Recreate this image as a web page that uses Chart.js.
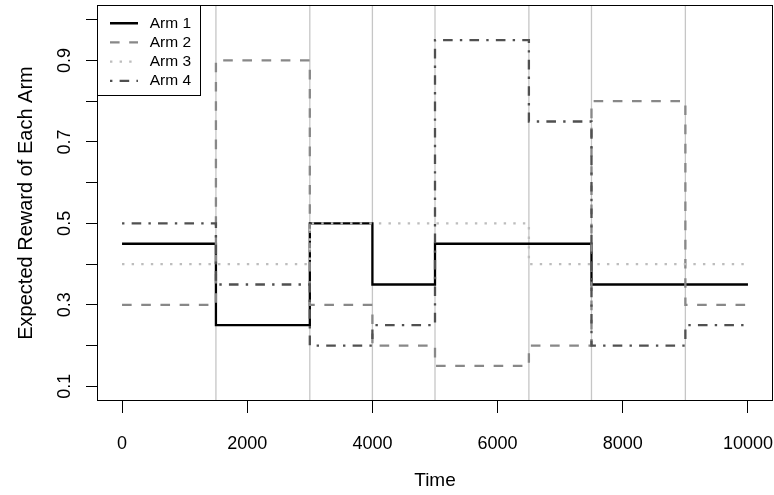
<!DOCTYPE html>
<html>
<head>
<meta charset="utf-8">
<script src="https://cdn.jsdelivr.net/npm/chart.js@4.4.1/dist/chart.umd.min.js"></script>
<style>
  html, body { margin: 0; padding: 0; background: #fff; }
  canvas { display: block; }
</style>
</head>
<body>
<canvas id="c" width="774" height="495"></canvas>
<script>
// segment edges (time) shared by all arms
const changeTimes = [0, 1500, 3000, 4000, 5000, 6500, 7500, 9000, 10000]
// expected reward of each arm on each segment
const arm1 = [0.45, 0.25, 0.50, 0.35, 0.45, 0.45, 0.35, 0.35]
const arm2 = [0.30, 0.90, 0.30, 0.20, 0.15, 0.20, 0.80, 0.30]
const arm3 = [0.40, 0.40, 0.50, 0.50, 0.50, 0.40, 0.40, 0.40]
const arm4 = [0.50, 0.35, 0.20, 0.25, 0.95, 0.75, 0.20, 0.25]
const armNames = ['Arm 1', 'Arm 2', 'Arm 3', 'Arm 4']
// grey vertical lines at the change points
const switchTimes = [1500, 3000, 4000, 5000, 6500, 7500, 9000]
const xTicks = [0, 2000, 4000, 6000, 8000, 10000]
const yTicks = [0.1, 0.2, 0.3, 0.4, 0.5, 0.6, 0.7, 0.8, 0.9, 1.0]
const yTickLabels = ['0.1', '', '0.3', '', '0.5', '', '0.7', '', '0.9', '']

const X_MIN = -400, X_MAX = 10400
const Y_MIN = 0.064, Y_MAX = 1.036

Chart.defaults.font.family = "'Liberation Sans', Arial, sans-serif"
Chart.defaults.color = '#000'

function steps(vals) {
    const pts = vals.map((v, i) => ({x: changeTimes[i], y: v}))
    pts.push({x: changeTimes[vals.length], y: vals[vals.length - 1]})
    return pts
}

const u = 2.4 // R dash unit at this line width
const armStyles = [
    {color: '#000000', dash: []},
    {color: '#888888', dash: [4 * u, 4 * u]},
    {color: '#bdbdbd', dash: [u, 3 * u]},
    {color: '#505050', dash: [u, 3 * u, 4 * u, 3 * u]},
]

const armData = [arm1, arm2, arm3, arm4]
const datasets = armData.map((vals, i) => ({
    label: armNames[i],
    data: steps(vals),
    stepped: true,
    borderColor: armStyles[i].color,
    backgroundColor: armStyles[i].color,
    borderDash: armStyles[i].dash,
    borderWidth: 2.3,
    borderCapStyle: 'butt',
    pointRadius: 0,
    fill: false,
    order: 4 - i,
}))
switchTimes.forEach(t => {
    datasets.push({
        data: [{x: t, y: Y_MIN}, {x: t, y: Y_MAX}],
        borderColor: '#c6c6c6',
        borderWidth: 1.3,
        pointRadius: 0,
        fill: false,
        order: 10,
    })
})

function noPad(s) {
    s.paddingLeft = 0
    s.paddingRight = 0
    s.paddingTop = 0
    s.paddingBottom = 0
}

// box around the plot and legend, legend placement
const frame = {
    id: 'frame',
    afterLayout: (chart) => {
        const lg = chart.legend
        const ca = chart.chartArea
        lg.left = ca.left + 9.3
        lg.top = ca.top + 6.8
        lg.right = ca.left + 94
        lg.bottom = ca.bottom
        lg.width = lg.right - lg.left
        lg.height = lg.bottom - lg.top
    },
    afterDraw: (chart) => {
        const ctx = chart.ctx
        const ca = chart.chartArea
        ctx.save()
        ctx.strokeStyle = '#000'
        ctx.lineWidth = 1
        ctx.strokeRect(Math.round(ca.left) + 0.5, Math.round(ca.top) + 0.5,
            Math.round(ca.right - ca.left) - 1, Math.round(ca.bottom - ca.top) - 1)
        ctx.strokeRect(Math.round(ca.left) + 0.5, Math.round(ca.top) + 0.5, 103, 90)
        ctx.restore()
    }
}

new Chart(document.getElementById('c'), {
    type: 'line',
    data: {datasets: datasets},
    plugins: [frame],
    options: {
        responsive: false,
        animation: false,
        devicePixelRatio: 1,
        layout: {padding: {top: 5, right: 1, left: 0, bottom: 0}},
        plugins: {
            tooltip: {enabled: false},
            legend: {
                position: 'chartArea',
                align: 'start',
                labels: {
                    usePointStyle: true,
                    pointStyleWidth: 28,
                    padding: 3.7,
                    textAlign: 'right',
                    font: {size: 15.5},
                    color: '#000',
                    generateLabels: (chart) => chart.data.datasets.slice(0, 4).map((ds, i) => ({
                        text: ds.label,
                        strokeStyle: ds.borderColor,
                        fillStyle: ds.borderColor,
                        lineWidth: ds.borderWidth,
                        lineDash: ds.borderDash,
                        lineCap: 'butt',
                        pointStyle: 'line',
                        fontColor: '#000',
                        hidden: false,
                        datasetIndex: i,
                    })),
                },
            },
        },
        scales: {
            x: {
                type: 'linear',
                min: X_MIN,
                max: X_MAX,
                afterBuildTicks: (s) => { s.ticks = xTicks.map(v => ({value: v})) },
                afterFit: (s) => { s.height = 94; noPad(s) },
                grid: {drawOnChartArea: false, tickLength: 12, color: '#000', lineWidth: 1},
                border: {display: false},
                ticks: {
                    autoSkip: false,
                    maxRotation: 0,
                    padding: 20,
                    font: {size: 18},
                    color: '#000',
                    callback: (v) => String(v),
                },
                title: {display: true, text: 'Time', font: {size: 19}, color: '#000', padding: {top: 0, bottom: 3}},
            },
            y: {
                min: Y_MIN,
                max: Y_MAX,
                afterBuildTicks: (s) => { s.ticks = yTicks.map(v => ({value: v})) },
                afterFit: (s) => { s.width = 97; noPad(s) },
                grid: {drawOnChartArea: false, tickLength: 11, color: '#000', lineWidth: 1},
                border: {display: false},
                ticks: {
                    autoSkip: false,
                    minRotation: 90,
                    maxRotation: 90,
                    crossAlign: 'center',
                    padding: 8,
                    font: {size: 18},
                    color: '#000',
                    callback: (v, i) => yTickLabels[i],
                },
                title: {display: true, text: 'Expected Reward of Each Arm', font: {size: 20}, color: '#000', padding: {top: 14, bottom: 0}},
            },
        },
    },
})
</script>
</body>
</html>
